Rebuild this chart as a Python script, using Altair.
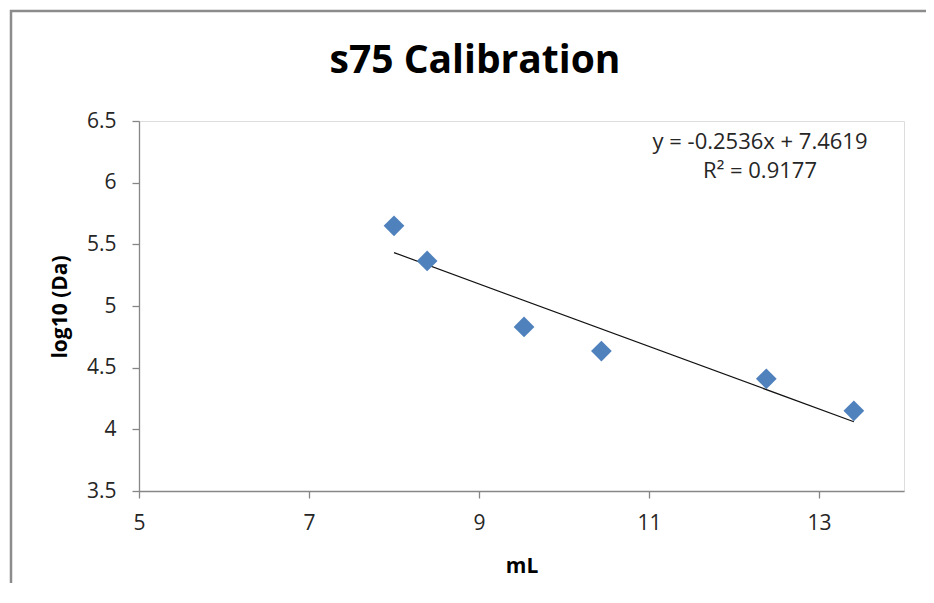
import altair as alt
import pandas as pd

# Data
ml = [8.0, 8.39, 9.53, 10.44, 12.38, 13.41]
log_da = [5.65, 5.365, 4.83, 4.635, 4.41, 4.15]

slope = -0.2536
intercept = 7.4619
trend_x = [8.0, 13.41]

x_ticks = [5, 7, 9, 11, 13]
y_ticks = [3.5, 4, 4.5, 5, 5.5, 6, 6.5]

title_text = "s75 Calibration"
eq_lines = ["y = -0.2536x + 7.4619", "R² = 0.9177"]
x_title = "mL"
y_title = "log10 (Da)"

FONT = "Open Sans"
W, H = 765, 370

pts = pd.DataFrame({"ml": ml, "log_da": log_da})
trend = pd.DataFrame({"ml": trend_x, "slope": [slope] * 2, "intercept": [intercept] * 2})

xscale = alt.Scale(domain=[5, 14], nice=False, zero=False)
yscale = alt.Scale(domain=[3.5, 6.5], nice=False, zero=False)

common = dict(title=None, grid=False, domainColor="#868686", tickColor="#868686",
              tickSize=7, labelFont=FONT, labelFontSize=21, labelColor="#262626",
              domainWidth=1.3, tickWidth=1.3, labelFlush=False)
xaxis = alt.Axis(values=x_ticks, format="d", labelPadding=14, **common)
yaxis = alt.Axis(values=y_ticks, labelExpr="datum.value", labelPadding=16, **common)

points = alt.Chart(pts).mark_point(shape="diamond", filled=True, size=430,
                                   color="#4f81bd", opacity=1).encode(
    x=alt.X("ml:Q", scale=xscale, axis=xaxis),
    y=alt.Y("log_da:Q", scale=yscale, axis=yaxis),
)

line = alt.Chart(trend).transform_calculate(
    fit="datum.slope * datum.ml + datum.intercept"
).mark_line(color="#111111", strokeWidth=1.2).encode(
    x=alt.X("ml:Q", scale=xscale, axis=xaxis),
    y=alt.Y("fit:Q", scale=yscale, axis=yaxis),
)

def txt(text, x, y, size, bold=False, angle=0, color="#262626", baseline="alphabetic"):
    return alt.Chart(pd.DataFrame({"t": [text]})).mark_text(
        font=FONT, fontSize=size, fontWeight="bold" if bold else "normal",
        angle=angle, color=color, align="center", baseline=baseline
    ).encode(x=alt.value(x), y=alt.value(y), text="t:N")

title = txt(title_text, 336, -48, 39, bold=True, color="#000000")
eq1 = txt(eq_lines[0], 621, 28, 22)
eq2 = txt(eq_lines[1], 621, 57, 22)
xt = txt(x_title, 383, 452, 21, bold=True, color="#000000")
yt = txt(y_title, -78, 186, 21, bold=True, angle=270, color="#000000", baseline="middle")

# chart-area frame (only its left and top edges fall inside the picture)
frame = alt.Chart(pd.DataFrame({"a": [0]})).mark_rect(
    fill=None, stroke="#8c8c8c", strokeWidth=2.5).encode(
    x=alt.value(-128), x2=alt.value(840), y=alt.value(-110), y2=alt.value(560))

chart = alt.layer(frame, line, points, title, eq1, eq2, xt, yt).properties(
    width=W, height=H,
    autosize=alt.AutoSizeParams(type="none"),
    padding={"left": 131, "top": 113, "right": 22, "bottom": 92},
).configure_view(stroke=None).configure(background="white")

chart.save("out.html", embed_options={"renderer": "svg", "actions": False})
